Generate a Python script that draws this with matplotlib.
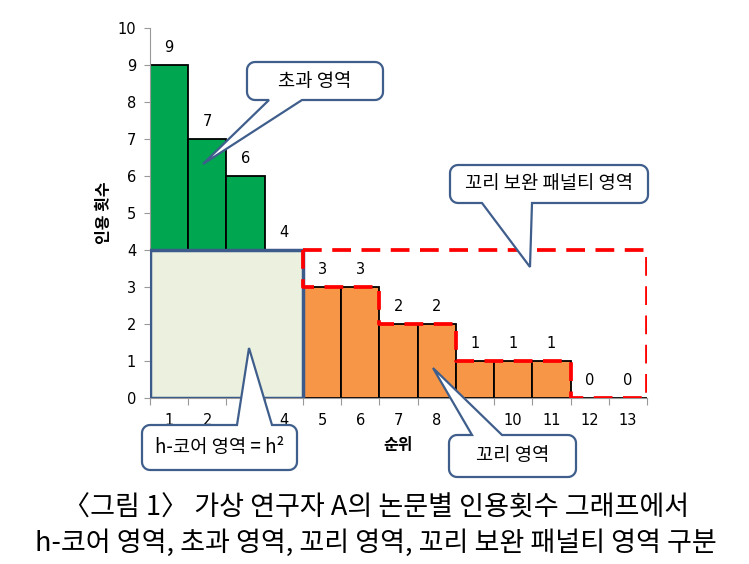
import matplotlib
matplotlib.use("Agg")
import matplotlib.pyplot as plt
import numpy as np
from matplotlib.patches import Polygon, Rectangle
from matplotlib.transforms import Affine2D

plt.rcParams['font.family'] = ['Noto Sans CJK KR', 'DejaVu Sans']

# ---- data ----
ranks = list(range(1, 14))
citations = [9, 7, 6, 4, 3, 3, 2, 2, 1, 1, 1, 0, 0]
h_index = 4
y_ticks = list(range(0, 11))
x_label = "순위"
y_label = "인용 횟수"
caption_lines = ["〈그림 1〉 가상 연구자 A의 논문별 인용횟수 그래프에서",
                 "h-코어 영역, 초과 영역, 꼬리 영역, 꼬리 보완 패널티 영역 구분"]
callout_texts = ["초과 영역", "꼬리 보완 패널티 영역", "h-코어 영역 = h²", "꼬리 영역"]

W, H = 749, 564
fig = plt.figure(figsize=(W / 100, H / 100), dpi=100)
ax = fig.add_axes([150 / W, 1 - 398 / H, (647 - 150) / W, (398 - 28) / H])

x = np.arange(len(ranks))
green = "#00A650"
orange = "#F79646"
core_fill = "#EBF1DE"
core_edge = "#3C5A8A"
call_edge = "#3F5E8C"

colors = [green if i < h_index else orange for i in range(len(ranks))]
ax.bar(x, citations, width=1.0, color=colors, edgecolor="black", linewidth=1.3, zorder=2)

# h-core square
ax.add_patch(Rectangle((-0.5, 0), h_index, h_index, facecolor=core_fill,
                       edgecolor=core_edge, linewidth=2.5, zorder=3))

# tail-complement penalty outline (dashed red)
px = [h_index - 0.5, len(ranks) - 0.5, len(ranks) - 0.5]
py = [h_index, h_index, 0]
for i in range(len(ranks) - 1, h_index - 1, -1):
    px += [i + 0.5, i - 0.5]
    py += [citations[i], citations[i]]
px += [h_index - 0.5]
py += [h_index]
ax.plot(px, py, color="#FF0000", linestyle=(0, (5, 2.8)), linewidth=2.7, zorder=4,
        solid_joinstyle="miter")

# value labels
for xi, v in zip(x, citations):
    ax.text(xi, v + 0.48, str(v), ha="center", va="center", fontsize=10.5,
            family="DejaVu Sans", zorder=5)

ax.set_xlim(-0.5, len(ranks) - 0.5)
ax.set_ylim(0, 10)
ax.set_yticks(y_ticks)
ax.set_yticklabels([str(t) for t in y_ticks], fontsize=10.5, family="DejaVu Sans")
ax.set_xticks(np.arange(-0.5, len(ranks), 1.0))
ax.set_xticklabels([])
ax.set_xticks(x, minor=True)
ax.set_xticklabels([str(r) for r in ranks], minor=True, fontsize=10.5, family="DejaVu Sans")
ax.tick_params(axis="x", which="major", length=5, color="#999999", direction="out")
ax.tick_params(axis="x", which="minor", length=0, pad=11)
ax.tick_params(axis="y", length=4, color="#999999", pad=6)
for s in ["top", "right"]:
    ax.spines[s].set_visible(False)
for s in ["left", "bottom"]:
    ax.spines[s].set_color("#999999")
ax.set_xlabel(x_label, fontsize=11.5, fontweight="bold", labelpad=6)
ax.set_ylabel(y_label, fontsize=11.5, fontweight="bold", labelpad=4)

# ---- callouts in pixel coordinates (y down) ----
pix = Affine2D().scale(1 / W, -1 / H).translate(0, 1) + fig.transFigure


def callout(L, T, R, B, side, bx0, bx1, tip, text, r=8, fs=13.5):
    pts = []
    def arc(cx, cy, a0, a1):
        for a in np.linspace(np.radians(a0), np.radians(a1), 8):
            pts.append((cx + r * np.cos(a), cy + r * np.sin(a)))
    pts.append((L + r, T))
    if side == "top":
        pts += [(bx0, T), tip, (bx1, T)]
    pts.append((R - r, T))
    arc(R - r, T + r, -90, 0)
    arc(R - r, B - r, 0, 90)
    if side == "bottom":
        pts += [(bx1, B), tip, (bx0, B)]
    arc(L + r, B - r, 90, 180)
    arc(L + r, T + r, 180, 270)
    poly = Polygon(pts, closed=True, facecolor="white", edgecolor=call_edge,
                   linewidth=1.6, transform=pix, zorder=10)
    fig.add_artist(poly)
    fig.text((L + R) / 2 / W, 1 - (T + B) / 2 / H, text, ha="center", va="center",
             fontsize=fs, zorder=11)


callout(247, 62, 383, 100, "bottom", 269, 302, (203, 164), callout_texts[0])
callout(450, 165, 648, 203, "bottom", 482, 532, (530, 267), callout_texts[1])
callout(142, 425, 297, 470, "top", 237, 272, (249, 348), callout_texts[2])
callout(449, 435, 576, 477, "top", 472, 502, (433, 368), callout_texts[3])

# caption
fig.text(376 / W, 1 - 508 / H, caption_lines[0], ha="center", va="center",
         fontsize=19.5)
fig.text(376 / W, 1 - 543 / H, caption_lines[1], ha="center", va="center",
         fontsize=19.5)

fig.savefig("out.png", dpi=100)
